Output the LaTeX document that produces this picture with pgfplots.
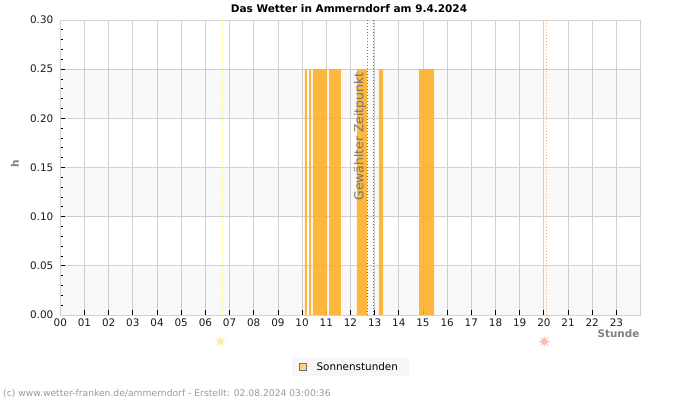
\documentclass[border=0pt]{standalone}
\usepackage{fontspec}
\setmainfont{DejaVu Sans}
\usepackage{pgfplots}
\pgfplotsset{compat=1.18}

\definecolor{gridgrey}{HTML}{D2D2D2}
\definecolor{sunbar}{HTML}{FFB02A}
\definecolor{sunkey}{HTML}{FFCC77}
\definecolor{sunriseic}{HTML}{FFECAA}
\definecolor{sunsetic}{HTML}{FFBDAE}
\definecolor{labelgrey}{HTML}{808080}

% small sun: disc with eight rays
\pgfdeclareplotmark{sun}{%
  \pgfsetlinewidth{0.7pt}%
  \foreach \a in {0,45,...,315}{%
    \pgfpathmoveto{\pgfqpointpolar{\a}{4pt}}%
    \pgfpathlineto{\pgfqpointpolar{\a}{5.6pt}}%
  }%
  \pgfusepathqstroke
  \pgfpathcircle{\pgfpointorigin}{3.6pt}%
  \pgfusepathqfill
}

\tikzset{sparse dots/.style={line width=1pt,dash pattern=on 1pt off 2pt}}

\begin{document}
\begin{tikzpicture}[x=1pt,y=1pt]
\useasboundingbox (0,0) rectangle (700,400);
\begin{axis}[
  at={(60.3pt,85pt)}, anchor=south west,
  scale only axis, width=580.3pt, height=295pt,
  xmin=0, xmax=24, ymin=0, ymax=0.30,
  xtick={0,...,23},
  xticklabels={00,01,02,03,04,05,06,07,08,09,10,11,12,13,14,15,16,17,18,19,20,21,22,23},
  ytick={0,0.05,...,0.30},
  minor y tick num=4,
  tick align=inside,
  xtick pos=bottom, ytick pos=left,
  major tick length=5pt, minor tick length=2.5pt,
  tick style={black,line width=0.8pt},
  minor tick style={black,line width=0.8pt},
  grid=major,
  major grid style={gridgrey,line width=0.8pt},
  axis line style={gridgrey,line width=0.8pt},
  yticklabel style={/pgf/number format/fixed,/pgf/number format/fixed zerofill,
    /pgf/number format/precision=2,/pgf/number format/assume math mode=true,xshift=-3.5pt},
  tick label style={font=\fontsize{10.4}{12}\selectfont,text=black!90},
  xticklabel style={yshift=-0.5pt},
  clip mode=individual,
  legend style={at={(0.399,-0.1458)},anchor=north west,draw=none,fill=black!3,
    font=\fontsize{10.4}{12}\selectfont,inner xsep=3pt,inner ysep=2pt,
    legend cell align=left},
]
% alternating background bands
\addplot[draw=none,fill=black,fill opacity=0.024,forget plot] coordinates {(0,0) (24,0) (24,0.05) (0,0.05)} --cycle;
\addplot[draw=none,fill=black,fill opacity=0.024,forget plot] coordinates {(0,0.10) (24,0.10) (24,0.15) (0,0.15)} --cycle;
\addplot[draw=none,fill=black,fill opacity=0.024,forget plot] coordinates {(0,0.20) (24,0.20) (24,0.25) (0,0.25)} --cycle;

% sunshine periods
\addplot[draw=none,fill=sunbar,fill opacity=0.9,
  legend image code/.code={
    \path (0pt,0pt) -- (19.5pt,0pt);
    \draw[draw=black!55,fill=sunkey,line width=0.8pt] (4pt,-3.5pt) rectangle (11.5pt,3.5pt);}]
  coordinates {
    (10.12,0) (10.12,0.25) (10.20,0.25) (10.20,0)
    (10.29,0) (10.29,0.25) (10.37,0.25) (10.37,0)
    (10.45,0) (10.45,0.25) (11.03,0.25) (11.03,0)
    (11.12,0) (11.12,0.25) (11.60,0.25) (11.60,0)
    (12.27,0) (12.27,0.25) (12.69,0.25) (12.69,0)
    (13.18,0) (13.18,0.25) (13.35,0.25) (13.35,0)
    (14.84,0) (14.84,0.25) (15.46,0.25) (15.46,0)
  } --cycle;
\addlegendentry{Sonnenstunden\hspace*{6pt}}

% sunrise and sunset
\addplot[sparse dots,color=yellow!75!white,forget plot] coordinates {(6.72,0) (6.72,0.30)};
\addplot[sparse dots,color=orange!60,forget plot] coordinates {(20.1,0) (20.1,0.30)};
% selected time
\addplot[sparse dots,color=black!55,forget plot] coordinates {(12.70,0) (12.70,0.30)};
\addplot[sparse dots,color=black!55,forget plot] coordinates {(12.97,0) (12.97,0.30)};

% sun symbols below the axis
\addplot[only marks,mark=sun,color=sunriseic,forget plot,clip=false] coordinates {(6.62,-0.0270)};
\addplot[only marks,mark=sun,color=sunsetic,forget plot,clip=false] coordinates {(20.02,-0.0270)};
\end{axis}

\node[font=\bfseries\fontsize{10.5}{12}\selectfont,text=black] at (349,391) {Das Wetter in Ammerndorf am 9.4.2024};
\node[rotate=90,font=\bfseries\fontsize{10.5}{12}\selectfont,text=labelgrey] at (15,236) {h};
\node[anchor=east,inner xsep=0pt,font=\bfseries\fontsize{10.4}{12}\selectfont,text=labelgrey] at (639.5,66) {Stunde};
\node[rotate=90,font=\fontsize{12.4}{14}\selectfont,text=black!55] at (360,263.5) {Gewählter Zeitpunkt};
\node[anchor=west,inner sep=0pt,font=\fontsize{9.2}{11}\selectfont,text=black!40] at (3,6.5) {(c) www.wetter-franken.de/ammerndorf - Erstellt: 02.08.2024 03:00:36};
\end{tikzpicture}
\end{document}
